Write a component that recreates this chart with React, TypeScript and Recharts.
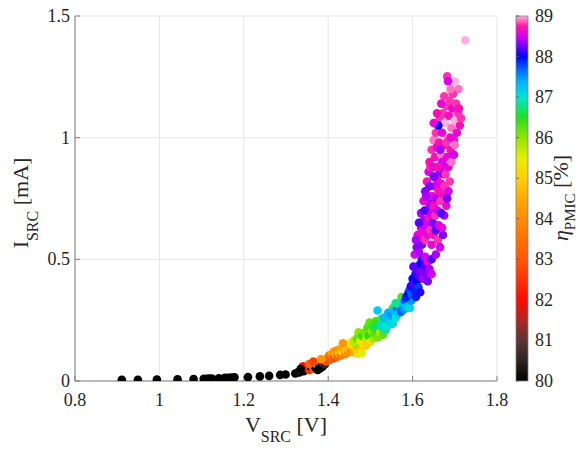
import React from 'react'
import { ScatterChart, Scatter, XAxis, YAxis, CartesianGrid } from 'recharts'

// [V_SRC (V), I_SRC (mA), eta_PMIC (%)]
type Pt = [number, number, number]

const X_TICKS = [0.8, 1, 1.2, 1.4, 1.6, 1.8]
const Y_TICKS = [0, 0.5, 1, 1.5]
const ETA_TICKS = [80, 81, 82, 83, 84, 85, 86, 87, 88, 89]

// flat low-voltage tail
const tailPts: Pt[] = [
  [0.911, 0.005, 80], [0.949, 0.005, 80], [0.994, 0.006, 80], [1.043, 0.007, 80],
  [1.081, 0.008, 80], [1.105, 0.009, 80], [1.112, 0.009, 80], [1.118, 0.01, 80],
  [1.124, 0.01, 80], [1.141, 0.011, 80], [1.155, 0.013, 80], [1.163, 0.013, 80],
  [1.17, 0.014, 80], [1.178, 0.015, 80], [1.21, 0.016, 80], [1.238, 0.019, 80],
  [1.26, 0.021, 80], [1.286, 0.025, 80], [1.299, 0.027, 80], [1.322, 0.031, 80],
  [1.328, 0.036, 80.2],
]

// knee, dark / red
const kneePts: Pt[] = [
  [1.332, 0.035, 80.2], [1.338, 0.045, 81.5], [1.342, 0.04, 80], [1.345, 0.055, 82],
  [1.35, 0.05, 80.5], [1.352, 0.062, 81], [1.356, 0.045, 82.5], [1.36, 0.058, 80],
  [1.362, 0.07, 82], [1.365, 0.05, 83], [1.368, 0.065, 81.5], [1.37, 0.055, 80],
  [1.372, 0.075, 82.8], [1.375, 0.06, 86], [1.378, 0.068, 81], [1.38, 0.05, 80.3],
  [1.382, 0.08, 83.5], [1.385, 0.065, 88], [1.386, 0.058, 80], [1.388, 0.075, 82],
  [1.39, 0.085, 84], [1.392, 0.068, 80.5], [1.395, 0.08, 83], [1.398, 0.09, 82.5],
  [1.34, 0.06, 82.2], [1.355, 0.07, 83.2], [1.335, 0.05, 80], [1.365, 0.08, 82.7],
  [1.383, 0.09, 84.2], [1.375, 0.045, 80],
]

// orange / yellow
const orangePts: Pt[] = [
  [1.4, 0.095, 84], [1.402, 0.105, 83.5], [1.405, 0.088, 83], [1.408, 0.11, 84.5],
  [1.41, 0.1, 83.8], [1.413, 0.12, 84.2], [1.415, 0.095, 82.8], [1.418, 0.108, 84.6],
  [1.42, 0.125, 84], [1.422, 0.1, 83.3], [1.425, 0.115, 84.8], [1.428, 0.13, 84.3],
  [1.43, 0.105, 83.6], [1.433, 0.12, 85], [1.436, 0.135, 84.5], [1.44, 0.11, 83.9],
  [1.442, 0.125, 84.7], [1.445, 0.14, 85.2], [1.448, 0.118, 84], [1.45, 0.13, 84.6],
  [1.452, 0.155, 85.4], [1.455, 0.125, 83.8], [1.458, 0.14, 85], [1.46, 0.118, 84.4],
  [1.463, 0.15, 85.6], [1.466, 0.13, 84.8], [1.47, 0.112, 85.3], [1.472, 0.145, 86],
  [1.476, 0.125, 84.9], [1.48, 0.115, 85.5], [1.435, 0.155, 84.2], [1.46, 0.165, 85.1],
]

// green
const greenPts: Pt[] = [
  [1.462, 0.16, 85.8], [1.468, 0.175, 86.2], [1.472, 0.2, 86], [1.476, 0.165, 85.5],
  [1.48, 0.185, 86.4], [1.484, 0.15, 85.3], [1.487, 0.2, 86.1], [1.49, 0.17, 85.7],
  [1.493, 0.22, 86.3], [1.496, 0.185, 86.5], [1.498, 0.24, 86.2], [1.5, 0.16, 85.6],
  [1.503, 0.205, 86], [1.506, 0.225, 86.6], [1.508, 0.175, 85.9], [1.51, 0.195, 86.3],
  [1.513, 0.245, 86.4], [1.516, 0.21, 86.7], [1.518, 0.18, 86.1], [1.52, 0.23, 86.5],
  [1.523, 0.2, 85.8], [1.526, 0.255, 86.3], [1.528, 0.22, 86.9], [1.53, 0.19, 86.2],
  [1.533, 0.24, 86.6], [1.536, 0.21, 86.8], [1.54, 0.26, 86.4], [1.544, 0.23, 86.9],
  [1.548, 0.25, 86.2], [1.553, 0.3, 86.2], [1.574, 0.345, 86.3], [1.49, 0.145, 85],
]

// cyan
const cyanPts: Pt[] = [
  [1.517, 0.29, 87.2], [1.525, 0.23, 87.1], [1.532, 0.26, 87.3], [1.538, 0.225, 87],
  [1.542, 0.28, 87.4], [1.546, 0.245, 87.2], [1.55, 0.27, 87.5], [1.553, 0.235, 87.1],
  [1.556, 0.29, 87.3], [1.56, 0.26, 87], [1.563, 0.3, 87.6], [1.566, 0.275, 87.2],
  [1.57, 0.31, 87.4], [1.573, 0.285, 87.7], [1.576, 0.32, 87.3], [1.58, 0.295, 87.5],
  [1.583, 0.33, 87.8], [1.586, 0.305, 87.2], [1.59, 0.34, 87.6], [1.594, 0.3, 87.1],
  [1.56, 0.32, 86.8], [1.597, 0.33, 87.5],
]

// blue
const bluePts: Pt[] = [
  [1.585, 0.345, 87.9], [1.59, 0.36, 88], [1.593, 0.375, 87.8], [1.596, 0.39, 88.1],
  [1.598, 0.355, 87.7], [1.6, 0.42, 88], [1.603, 0.4, 88.2], [1.605, 0.37, 87.9],
  [1.607, 0.44, 88.1], [1.61, 0.41, 88], [1.612, 0.46, 88.3], [1.614, 0.385, 87.8],
  [1.616, 0.43, 88.2], [1.618, 0.48, 88], [1.62, 0.45, 88.3], [1.622, 0.5, 88.1],
  [1.625, 0.42, 88.4], [1.628, 0.47, 88.2], [1.63, 0.51, 88.5], [1.633, 0.44, 88.3],
  [1.636, 0.49, 88.6], [1.64, 0.46, 88.4], [1.608, 0.345, 87.9], [1.618, 0.365, 88.1],
  [1.602, 0.47, 88.2], [1.645, 0.44, 88.5], [1.636, 0.41, 88.3],
]

// purple / magenta column
const purplePts: Pt[] = [
  [1.605, 0.52, 88.5], [1.61, 0.55, 88.3], [1.612, 0.6, 88.6], [1.615, 0.53, 88.4],
  [1.618, 0.58, 88.7], [1.62, 0.63, 88.5], [1.622, 0.56, 88.3], [1.625, 0.61, 88.6],
  [1.627, 0.66, 88.4], [1.63, 0.58, 88.8], [1.632, 0.64, 88.5], [1.634, 0.7, 88.3],
  [1.636, 0.6, 88.6], [1.638, 0.67, 88.7], [1.64, 0.73, 88.4], [1.642, 0.62, 88.8],
  [1.644, 0.69, 88.5], [1.646, 0.76, 88.6], [1.648, 0.65, 88.3], [1.65, 0.72, 88.7],
  [1.652, 0.8, 88.5], [1.654, 0.68, 88.8], [1.656, 0.75, 88.4], [1.658, 0.83, 88.6],
  [1.66, 0.7, 88.5], [1.662, 0.78, 88.7], [1.664, 0.86, 88.4], [1.666, 0.74, 88.8],
  [1.668, 0.81, 88.6], [1.67, 0.89, 88.5], [1.672, 0.77, 88.7], [1.674, 0.85, 88.3],
  [1.676, 0.8, 88.8], [1.678, 0.88, 88.6], [1.62, 0.69, 88.4], [1.626, 0.74, 88.6],
  [1.63, 0.78, 88.3], [1.634, 0.82, 88.7], [1.638, 0.86, 88.5], [1.642, 0.88, 88.8],
  [1.615, 0.65, 88.2], [1.608, 0.58, 88.4], [1.645, 0.56, 88.6], [1.65, 0.6, 88.7],
  [1.655, 0.62, 88.2], [1.66, 0.58, 88.8], [1.662, 0.64, 88.5], [1.645, 0.5, 88.2],
  [1.655, 0.52, 88.4], [1.665, 0.55, 88.5], [1.672, 0.6, 88.3], [1.67, 0.63, 88.6],
  [1.675, 0.68, 88.4], [1.68, 0.72, 88.6], [1.685, 0.78, 88.5], [1.688, 0.82, 88.8],
  [1.628, 0.7, 88.2], [1.632, 0.76, 88.4], [1.64, 0.8, 88.3], [1.682, 0.75, 88.3],
  [1.668, 0.69, 88.2], [1.65, 0.84, 88.3],
]

// pink top
const pinkPts: Pt[] = [
  [1.64, 0.9, 88.7], [1.645, 0.95, 88.8], [1.648, 0.88, 88.6], [1.65, 0.99, 88.9],
  [1.653, 0.92, 88.7], [1.655, 1.02, 88.8], [1.657, 0.96, 88.6], [1.66, 1.05, 88.9],
  [1.663, 0.98, 88.7], [1.665, 1.08, 88.8], [1.667, 0.93, 88.9], [1.67, 1.02, 88.6],
  [1.672, 1.1, 88.8], [1.675, 0.97, 88.7], [1.677, 1.06, 89], [1.68, 1.13, 88.8],
  [1.682, 0.92, 88.6], [1.684, 1.0, 88.9], [1.686, 1.09, 88.7], [1.688, 1.15, 88.8],
  [1.69, 0.95, 88.7], [1.692, 1.04, 88.9], [1.694, 1.12, 88.6], [1.696, 1.18, 88.8],
  [1.698, 0.99, 88.7], [1.7, 1.07, 89], [1.703, 1.14, 88.8], [1.705, 1.02, 88.6],
  [1.708, 1.1, 88.8], [1.709, 1.2, 88.9], [1.712, 1.05, 88.7], [1.7, 1.231, 89.2],
  [1.682, 1.252, 88.8], [1.684, 1.232, 88.5], [1.695, 1.18, 88.8], [1.725, 1.4, 89.3],
  [1.678, 0.85, 88.8], [1.685, 0.88, 88.6], [1.692, 0.9, 88.9], [1.67, 0.9, 88.5],
  [1.66, 0.88, 88.7], [1.666, 0.95, 88.4], [1.661, 1.05, 88], [1.68, 0.98, 88.8],
  [1.69, 1.0, 88.6], [1.7, 0.97, 88.9], [1.71, 1.12, 88.7], [1.715, 1.08, 88.8],
  [1.69, 1.2, 88.9], [1.675, 1.17, 88.8], [1.668, 1.14, 88.6], [1.658, 1.1, 88.7],
  [1.65, 1.06, 88.6], [1.698, 0.93, 88.5],
]

const allPts = [
  ...tailPts, ...kneePts, ...orangePts, ...greenPts,
  ...cyanPts, ...bluePts, ...purplePts, ...pinkPts,
].map(([v, i, eta]) => ({ v, i, eta }))

// colormap stops (eta -> colour)
const CMAP: [number, string][] = [
  [80, '#000000'], [80.5, '#2e2424'], [81, '#5e3434'], [81.5, '#b02626'],
  [82, '#ff0a00'], [82.5, '#ff3200'], [83, '#ff5800'], [83.5, '#ff7200'],
  [84, '#ff8c00'], [84.5, '#ffaa00'], [85, '#ffd000'], [85.5, '#e6ee00'],
  [86, '#90e400'], [86.5, '#20e020'], [87, '#00e6d6'], [87.4, '#00b0ff'],
  [87.7, '#0060ff'], [88, '#0000ff'], [88.25, '#6a00ff'], [88.5, '#d800f0'],
  [88.75, '#ff14a6'], [89, '#ffb0dc'],
]

function hex(c: string) {
  return [1, 3, 5].map(k => parseInt(c.slice(k, k + 2), 16))
}

function etaColor(eta: number) {
  if (eta <= CMAP[0][0]) return CMAP[0][1]
  for (let k = 1; k < CMAP.length; k++) {
    if (eta <= CMAP[k][0]) {
      const [e0, c0] = CMAP[k - 1]
      const [e1, c1] = CMAP[k]
      const t = (eta - e0) / (e1 - e0)
      const a = hex(c0), b = hex(c1)
      const m = a.map((x, j) => Math.round(x + (b[j] - x) * t))
      return `rgb(${m[0]},${m[1]},${m[2]})`
    }
  }
  return CMAP[CMAP.length - 1][1]
}

const SERIF = '"Liberation Serif", "Times New Roman", serif'
const TXT = '#262626'
const AX = '#808080'

const PLOT_TOP = 16
const PLOT_BOTTOM = 381
const CB_X = 516
const CB_W = 12

function Dot(props: any) {
  const { cx, cy, payload } = props
  if (cx == null || cy == null) return null
  return <circle cx={cx} cy={cy} r={4.3} fill={etaColor(payload.eta)} />
}

function XTick(props: any) {
  const { x, y, payload } = props
  return (
    <text x={x} y={y} dy={13} textAnchor="middle" fontSize={18} fontFamily={SERIF} fill={TXT}>
      {String(payload.value)}
    </text>
  )
}

function YTick(props: any) {
  const { x, y, payload } = props
  return (
    <text x={x} y={y} textAnchor="end" dominantBaseline="central" fontSize={18} fontFamily={SERIF} fill={TXT}>
      {String(payload.value)}
    </text>
  )
}

const noTick = () => <g />

export default function App() {
  const etaY = (e: number) => PLOT_BOTTOM - ((e - 80) / 9) * (PLOT_BOTTOM - PLOT_TOP)
  return (
    <div style={{ position: 'absolute', left: 0, top: 0, width: 581, height: 450, background: '#fff', fontFamily: SERIF }}>
      <ScatterChart width={581} height={450} margin={{ top: PLOT_TOP, right: 84, bottom: 0, left: 0 }}>
        <CartesianGrid stroke="#e6e6e6" />
        <XAxis
          type="number" dataKey="v" domain={[0.8, 1.8]} ticks={X_TICKS} interval={0}
          allowDataOverflow height={69} stroke={AX} tickSize={-5} tickMargin={17}
          tick={XTick}
        />
        <YAxis
          type="number" dataKey="i" domain={[0, 1.5]} ticks={Y_TICKS} interval={0}
          allowDataOverflow width={75} stroke={AX} tickSize={-5} tickMargin={10}
          tick={YTick}
        />
        <XAxis
          xAxisId="top" orientation="top" type="number" domain={[0.8, 1.8]}
          ticks={X_TICKS} interval={0} height={0} stroke={AX} tickSize={-5} tick={noTick}
        />
        <YAxis
          yAxisId="right" orientation="right" type="number" domain={[0, 1.5]}
          ticks={Y_TICKS} interval={0} width={0} stroke={AX} tickSize={-5} tick={noTick}
        />
        <Scatter data={allPts} shape={Dot} isAnimationActive={false} />
      </ScatterChart>

      <svg width={581} height={450} style={{ position: 'absolute', left: 0, top: 0, pointerEvents: 'none' }}>
        <defs>
          <linearGradient id="cbar" x1="0" y1="1" x2="0" y2="0">
            {CMAP.map(([e, c]) => (
              <stop key={e} offset={`${((e - 80) / 9) * 100}%`} stopColor={c} />
            ))}
          </linearGradient>
        </defs>

        {/* colorbar */}
        <rect x={CB_X} y={PLOT_TOP} width={CB_W} height={PLOT_BOTTOM - PLOT_TOP} fill="url(#cbar)" stroke={AX} strokeWidth={0.8} />
        {ETA_TICKS.map(e => (
          <g key={e}>
            <line x1={CB_X} x2={CB_X + 3} y1={etaY(e)} y2={etaY(e)} stroke="#555" strokeWidth={0.8} />
            <text x={CB_X + 19} y={etaY(e)} dominantBaseline="central" fontSize={18} fontFamily={SERIF} fill={TXT}>
              {e}
            </text>
          </g>
        ))}

        {/* axis titles */}
        <text x={286} y={432} textAnchor="middle" fontSize={22} fontFamily={SERIF} fill={TXT}>
          V<tspan dy={10} fontSize={16}>SRC</tspan><tspan dy={-10}> [V]</tspan>
        </text>
        <text transform="translate(28,203) rotate(-90)" textAnchor="middle" fontSize={22} fontFamily={SERIF} fill={TXT}>
          I<tspan dy={10} fontSize={16}>SRC</tspan><tspan dy={-10}> [mA]</tspan>
        </text>
        <text transform="translate(568,198) rotate(-90)" textAnchor="middle" fontSize={22} fontFamily={SERIF} fill={TXT}>
          <tspan fontStyle="italic">η</tspan><tspan dy={7} fontSize={15}>PMIC</tspan><tspan dy={-7}> [%]</tspan>
        </text>
      </svg>
    </div>
  )
}
